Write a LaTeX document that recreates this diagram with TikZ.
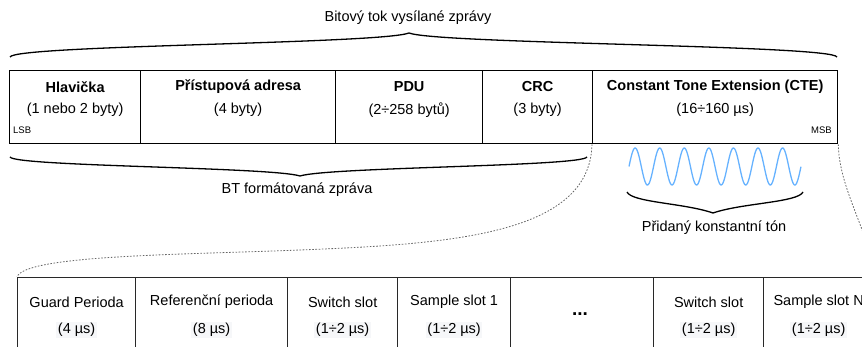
\documentclass[tikz,border=0pt]{standalone}
\usepackage{fontspec}
\setmainfont{Liberation Sans}
\usetikzlibrary{calc}
\definecolor{tone}{RGB}{102,178,255}
\definecolor{cellline}{RGB}{40,40,40}
\definecolor{hint}{RGB}{246,247,249}
\tikzset{
  topcell/.style={draw=black, line width=1.3pt, minimum height=73pt, inner sep=0pt, anchor=north west},
  lowcell/.style={draw=cellline, line width=1.3pt, minimum height=79pt, inner sep=0pt, anchor=north west},
  ttl/.style={font=\fontsize{14.5}{16}\selectfont\bfseries, inner sep=0pt},
  txt/.style={font=\fontsize{14.5}{16}\selectfont, inner sep=0pt},
  dur/.style={font=\fontsize{14.5}{16}\selectfont, inner sep=1.5pt, fill=hint},
  tiny/.style={font=\fontsize{9.5}{11}\selectfont, inner sep=0pt},
  curly/.style={line width=1.3pt, black},
  zoomline/.style={gray!80!black, line width=0.8pt, dash pattern=on 1.6pt off 1.6pt},
  wave/.style={tone, line width=1.3pt},
}
\begin{document}
\begin{tikzpicture}[x=1pt, y=-1pt]
\useasboundingbox (0,0) rectangle (862,347);
\clip (0,0) rectangle (862,347);

% ---- transmitted frame ----
\node[topcell, minimum width=131pt] (hl)  at (9,70)   {};
\node[topcell, minimum width=195pt] (pa)  at (140,70) {};
\node[topcell, minimum width=147pt] (pdu) at (335,70) {};
\node[topcell, minimum width=110pt] (crc) at (482,70) {};
\node[topcell, minimum width=245pt] (cte) at (592,70) {};

\node[ttl] (hlA)  at (hl.center  |- 0,87) {Hlavička};
\node[txt] (hlB)  at (hl.center  |- 0,110) {(1 nebo 2 byty)};
\node[ttl] (paA)  at (pa.center  |- 0,87) {Přístupová adresa};
\node[txt] (paB)  at (pa.center  |- 0,110) {(4 byty)};
\node[ttl] (pduA) at (pdu.center |- 0,87) {PDU};
\node[txt] (pduB) at (pdu.center |- 0,110) {(2÷258 bytů)};
\node[ttl] (crcA) at (crc.center |- 0,87) {CRC};
\node[txt] (crcB) at (crc.center |- 0,110) {(3 byty)};
\node[ttl] (cteA) at (cte.center |- 0,87) {Constant Tone Extension (CTE)};
\node[txt] (cteB) at (cte.center |- 0,110) {(16÷160 µs)};
\node[tiny, anchor=west] (lsb) at (13,130) {LSB};
\node[tiny, anchor=east] (msb) at (832,130) {MSB};

% ---- brace over the whole frame ----
\coordinate (tL) at (10,57);
\coordinate (tT) at (409,33);
\coordinate (tR) at (837,57);
\draw[curly] (tL) .. controls (15,45) and (380,44) .. (tT)
                  .. controls (438,44) and (832,45) .. (tR);
\node[txt] (bitstream) at (408,18) {Bitový tok vysílané zprávy};

% ---- brace under the formatted part ----
\coordinate (bL) at (10,157);
\coordinate (bT) at (300,176);
\coordinate (bR) at (587,157);
\draw[curly] (bL) .. controls (15,166.5) and (271,167) .. (bT)
                  .. controls (329,167) and (582,166.5) .. (bR);
\node[txt] (btmsg) at (297,190) {BT formátovaná zpráva};

% ---- constant tone ----
\draw[wave] plot[domain=0:7, samples=240, smooth] ({629+\x*24.571}, {166.5-18.5*sin(\x*360)});
\coordinate (wL) at (627,192);
\coordinate (wT) at (713,213);
\coordinate (wR) at (803,192);
\draw[curly] (wL) .. controls (632,202.5) and (684,203) .. (wT)
                  .. controls (742,203) and (798,202.5) .. (wR);
\node[txt] (tonelbl) at (714,228) {Přidaný konstantní tón};

% ---- CTE slot structure ----
\node[lowcell, minimum width=118pt] (gp)  at (17,277)  {};
\node[lowcell, minimum width=152pt] (rp)  at (135,277) {};
\node[lowcell, minimum width=110pt] (sw1) at (287,277) {};
\node[lowcell, minimum width=113pt] (sa1) at (397,277) {};
\node[lowcell, minimum width=143pt] (dots) at (510,277) {};
\node[lowcell, minimum width=110pt] (swn) at (653,277) {};
\node[lowcell, minimum width=110pt] (san) at (763,277) {};

\node[txt] (gpA)  at (gp.center  |- 0,302) {Guard Perioda};
\node[dur] (gpB)  at (gp.center  |- 0,330) {(4 µs)};
\node[txt] (rpA)  at (rp.center  |- 0,302) {Referenční perioda};
\node[dur] (rpB)  at (rp.center  |- 0,330) {(8 µs)};
\node[txt] (sw1A) at (sw1.center |- 0,302) {Switch slot};
\node[dur] (sw1B) at (sw1.center |- 0,330) {(1÷2 µs)};
\node[txt] (sa1A) at (sa1.center |- 0,302) {Sample slot 1};
\node[dur] (sa1B) at (sa1.center |- 0,330) {(1÷2 µs)};
\node[font=\fontsize{19}{20}\selectfont\bfseries, inner sep=0pt] (dotsA) at (580,314) {...};
\node[txt] (swnA) at (swn.center |- 0,302) {Switch slot};
\node[dur] (swnB) at (swn.center |- 0,330) {(1÷2 µs)};
\node[txt] (sanA) at (san.center |- 0,302) {Sample slot N};
\node[dur] (sanB) at (san.center |- 0,330) {(1÷2 µs)};

% ---- zoom guides from CTE to its slots ----
\coordinate (bend) at (300,250);
\draw[zoomline] (cte.south west) .. controls (590,235) and (450,244) .. (bend)
                .. controls (180,254.8) and (25,255) .. (gp.north west);
\draw[zoomline] (cte.south east) .. controls (839,190) and (871,235) .. (san.north east);
\end{tikzpicture}
\end{document}
